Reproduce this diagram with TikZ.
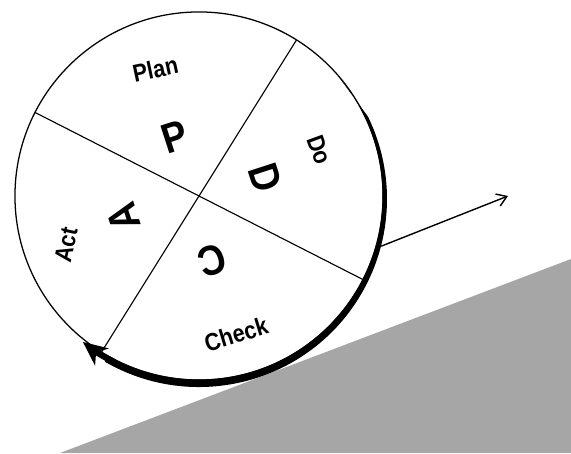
\documentclass[tikz,border=0pt]{standalone}
\usepackage{fontspec}
\setmainfont{Liberation Sans}
\newfontfamily\narrowsans{Liberation Sans}[FakeStretch=0.88]
\usetikzlibrary{positioning, arrows.meta, calc}
\definecolor{slope}{HTML}{A6A6A6}

\begin{document}
\begin{tikzpicture}[
  x=0.025cm, y=0.025cm,
  wheel/.style={circle, draw, line width=0.9pt, minimum size=9.2cm, inner sep=0pt, outer sep=0pt},
  spoke/.style={line width=0.8pt},
  letter/.style={font=\narrowsans\bfseries\fontsize{30}{30}\selectfont, inner sep=0pt},
  phase/.style={font=\narrowsans\bfseries\fontsize{17.5}{17.5}\selectfont, inner sep=0pt},
  push/.style={-{Straight Barb[length=2.4mm,width=3.2mm]}, line width=1pt},
  turn/.style={-{Stealth[length=6mm,width=5.4mm,inset=1.8mm]}, line width=4.4pt},
]
\useasboundingbox (0,0) rectangle (571,453);

% the hill
\fill[slope] (60,0) -- (571,194) -- (571,0) -- cycle;

\node[wheel] (wheel) at (199,257) {};
\draw[spoke] (wheel.58) -- (wheel.238);
\draw[spoke] (wheel.153.5) -- (wheel.333.5);

% rolling direction, thickening towards the bottom
\fill (wheel.center) ++(40:183.5) arc[start angle=40, end angle=-120, radius=183.5]
  -- ($(wheel.center)+(0,-3)+(-120:188)$) arc[start angle=-120, end angle=26, radius=188] -- cycle;
\draw[turn] (wheel.center) ++(-117:186.5) arc[start angle=-117, end angle=-128.5, radius=186.5];

\node[letter, rotate=18]  (p) at ($(wheel.center)+(112:64)$) {P};
\node[letter, rotate=-72] (d) at ($(wheel.center)+(15:69)$) {D};
\node[letter, rotate=-162] (c) at ($(wheel.center)+(-78:66)$) {C};
\node[letter, rotate=108] (a) at ($(wheel.center)+(195.6:78)$) {A};

\node[phase, rotate=12]  (plan)  at ($(wheel.center)+(109:134)$) {Plan};
\node[phase, rotate=-70] (do)    at ($(wheel.center)+(21:128.5)$) {Do};
\node[phase, rotate=17]  (check) at ($(wheel.center)+(-75:143)$) {Check};
\node[phase, rotate=78]  (act)   at ($(wheel.center)+(200.2:141.7)$) {Act};

\coordinate (contact) at ($(wheel.center)+(-15.4:189)$);
\coordinate (ahead) at (508,257);
\draw[push] (contact) -- (ahead);
\end{tikzpicture}
\end{document}
